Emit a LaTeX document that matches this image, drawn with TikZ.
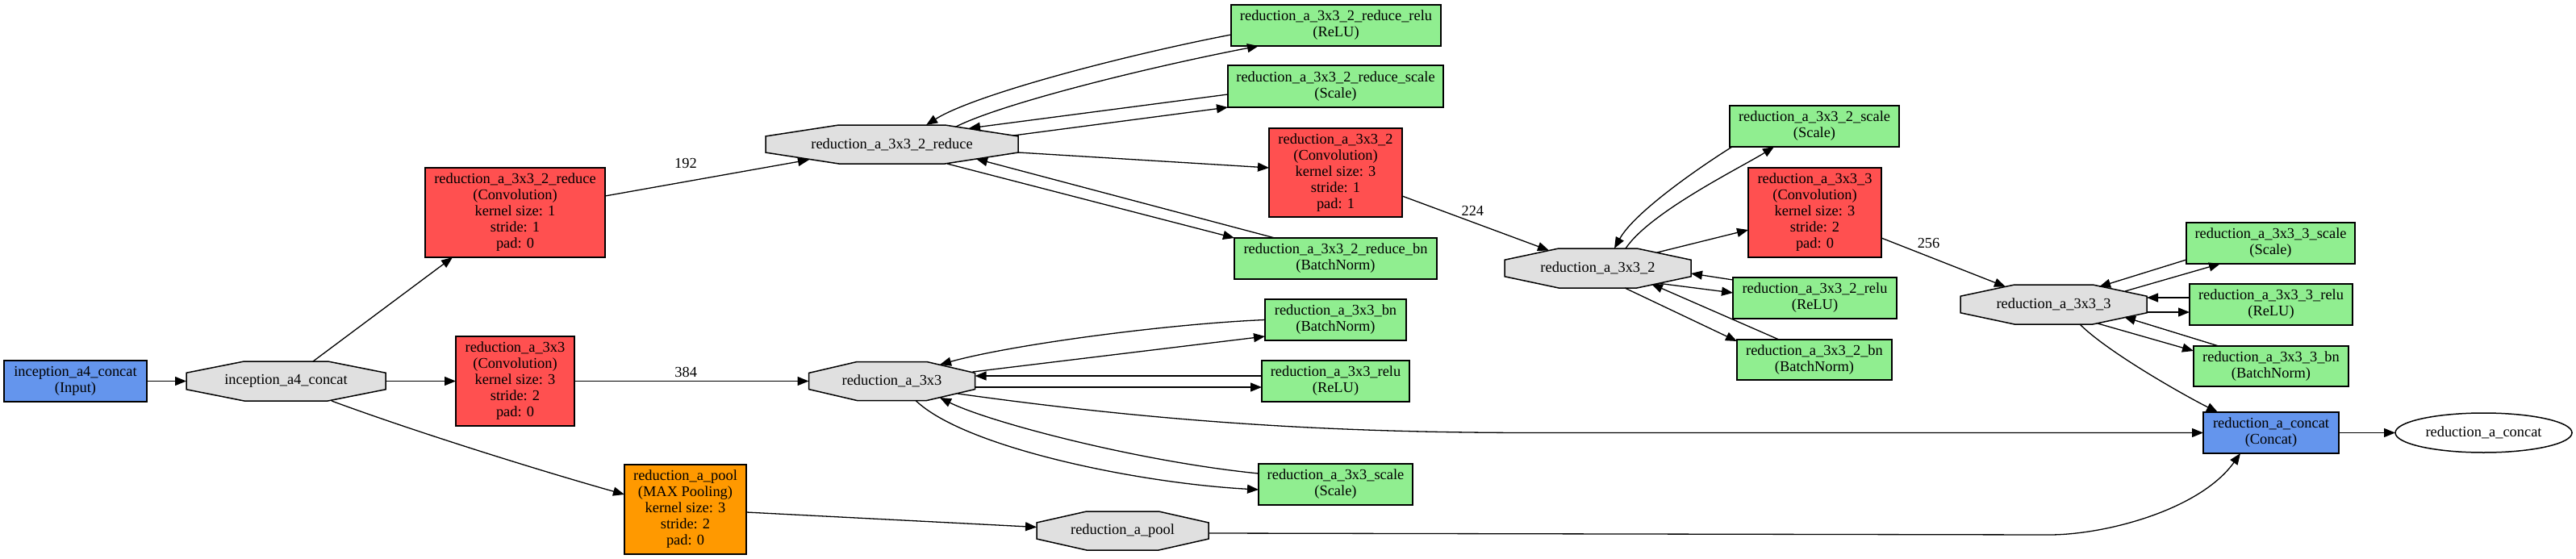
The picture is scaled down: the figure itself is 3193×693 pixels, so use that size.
\documentclass[tikz,border=0pt]{standalone}
\usepackage{fontspec}
\setmainfont{Liberation Serif}
\usetikzlibrary{arrows.meta,calc,backgrounds,shapes.geometric}
\definecolor{convred}{HTML}{FF5050}
\definecolor{neurgreen}{HTML}{90EE90}
\definecolor{layerblue}{HTML}{6495ED}
\definecolor{poolorange}{HTML}{FF9900}
\definecolor{blobgray}{HTML}{E0E0E0}
\newcommand\myoct[1]{%
  \filldraw[octstyle] ($(#1.north west)!0.29!(#1.south west)$) -- ($(#1.north west)!0.29!(#1.north east)$) -- ($(#1.north east)!0.29!(#1.north west)$) -- ($(#1.north east)!0.29!(#1.south east)$) -- ($(#1.south east)!0.29!(#1.north east)$) -- ($(#1.south east)!0.29!(#1.south west)$) -- ($(#1.south west)!0.29!(#1.south east)$) -- ($(#1.south west)!0.29!(#1.north west)$) -- cycle;}
\begin{document}
\begin{tikzpicture}[x=1pt,y=-1pt,
  every node/.style={font=\fontsize{18.4}{20}\selectfont, inner sep=0pt, outer sep=0pt},
  sz/.style 2 args={minimum width=#1pt, minimum height=#2pt},
  lbox/.style={draw=black, line width=1.5pt, rectangle, align=center},
  conv/.style={lbox, fill=convred},
  neur/.style={lbox, fill=neurgreen},
  inp/.style={lbox, fill=layerblue},
  poolbox/.style={lbox, fill=poolorange},
  blob/.style={rectangle, align=center},
  octstyle/.style={fill=blobgray, draw=black, line width=1.5pt},
  conn/.style={line width=1.3pt, -{Triangle[length=14pt,width=11pt]}},
  elab/.style={}
]
\useasboundingbox (0,0) rectangle (3193,693);

\node[inp, sz={177}{51}] (in) at (93.5,472.5) {inception\_a4\_concat\\(Input)};
\node[blob, sz={247}{49}] (b0) at (354.5,472.5) {inception\_a4\_concat};
\node[conv, sz={223}{111}] (c2r) at (638.5,263.5) {reduction\_a\_3x3\_2\_reduce\\(Convolution)\\kernel size: 1\\stride: 1\\pad: 0};
\node[conv, sz={147}{111}] (c3) at (638.5,472.5) {reduction\_a\_3x3\\(Convolution)\\kernel size: 3\\stride: 2\\pad: 0};
\node[poolbox, sz={151}{111}] (pl) at (849.5,631.5) {reduction\_a\_pool\\(MAX Pooling)\\kernel size: 3\\stride: 2\\pad: 0};
\node[blob, sz={313}{48}] (b2r) at (1105.5,179) {reduction\_a\_3x3\_2\_reduce};
\node[blob, sz={206}{48}] (b3) at (1105.5,472.5) {reduction\_a\_3x3};
\node[blob, sz={213}{48}] (bp) at (1391.5,658) {reduction\_a\_pool};
\node[neur, sz={260}{51}] (r2rr) at (1656,31.5) {reduction\_a\_3x3\_2\_reduce\_relu\\(ReLU)};
\node[neur, sz={267}{52}] (r2rs) at (1655.5,107) {reduction\_a\_3x3\_2\_reduce\_scale\\(Scale)};
\node[conv, sz={165}{110}] (c32) at (1655.5,214) {reduction\_a\_3x3\_2\\(Convolution)\\kernel size: 3\\stride: 1\\pad: 1};
\node[neur, sz={251}{51}] (r2rb) at (1655.5,320.5) {reduction\_a\_3x3\_2\_reduce\_bn\\(BatchNorm)};
\node[neur, sz={175}{51}] (r3b) at (1655.5,396.5) {reduction\_a\_3x3\_bn\\(BatchNorm)};
\node[neur, sz={183}{51}] (r3r) at (1655.5,472.5) {reduction\_a\_3x3\_relu\\(ReLU)};
\node[neur, sz={191}{51}] (r3s) at (1655.5,600.5) {reduction\_a\_3x3\_scale\\(Scale)};
\node[blob, sz={231}{49}] (b32) at (1980.5,332.5) {reduction\_a\_3x3\_2};
\node[neur, sz={210}{51}] (s32) at (2249,156.5) {reduction\_a\_3x3\_2\_scale\\(Scale)};
\node[conv, sz={165}{111}] (c33) at (2249.5,263.5) {reduction\_a\_3x3\_3\\(Convolution)\\kernel size: 3\\stride: 2\\pad: 0};
\node[neur, sz={203}{51}] (r32) at (2249.5,369.5) {reduction\_a\_3x3\_2\_relu\\(ReLU)};
\node[neur, sz={192}{50}] (n32) at (2249,446) {reduction\_a\_3x3\_2\_bn\\(BatchNorm)};
\node[blob, sz={231}{49}] (b33) at (2545.5,377.5) {reduction\_a\_3x3\_3};
\node[neur, sz={209}{51}] (s33) at (2814.5,301.5) {reduction\_a\_3x3\_3\_scale\\(Scale)};
\node[neur, sz={202}{51}] (r33) at (2815,377.5) {reduction\_a\_3x3\_3\_relu\\(ReLU)};
\node[neur, sz={192}{50}] (n33) at (2815,454) {reduction\_a\_3x3\_3\_bn\\(BatchNorm)};
\node[inp, sz={168}{51}] (cc) at (2815,536.5) {reduction\_a\_concat\\(Concat)};
\node[ellipse, draw=black, line width=1.5pt, fill=white, sz={219}{49}] (out) at (3078.5,536.5) {reduction\_a\_concat};

% edges
\draw[conn] (in) -- (b0);
\draw[conn] ($(b0.north)+(33.5,0)$) -- ($(c2r.south)+(-77.5,0)$);
\draw[conn] (b0) -- (c3);
\draw[conn] ($(b0.south)+(56.5,0)$) .. controls +(100,37) and +(-110,-31) .. ($(pl.west)+(0,-18.5)$);
\draw[conn] ($(c2r.east)+(0,-20.5)$) -- node[elab,pos=0.395,yshift=23pt]{192} ($(b2r)+(-102.5,19)$);
\draw[conn] (c3) -- node[elab,pos=0.476,yshift=11pt]{384} (b3);

\draw[conn] ($(r2rr.west)+(0,11.5)$) .. controls +(-130,25) and +(60,-38) .. ($(b2r.north)+(42.5,0)$);
\draw[conn] ($(b2r)+(79.5,-22)$) .. controls +(60,-30) and +(-130,25) .. ($(r2rr.south)+(-96,0)$);
\draw[conn] ($(r2rs.west)+(0,10)$) -- ($(b2r)+(95.5,-20)$);
\draw[conn] ($(b2r)+(150.5,-11)$) -- (r2rs.south west);
\draw[conn] ($(b2r.east)+(0,10)$) -- ($(c32.west)+(0,-6)$);
\draw[conn] ($(b2r.south)+(68.5,0)$) -- (r2rb.north west);
\draw[conn] ($(r2rb.north)+(-75.5,0)$) -- ($(b2r)+(104.5,18)$);

\draw[conn] (r3b.west) .. controls +(-120,5) and +(90,-25) .. ($(b3)+(59.5,-20.5)$);
\draw[conn] ($(b3)+(100,-11.5)$) -- ($(r3b.west)+(0,20.5)$);
\draw[conn] ($(r3r.west)+(0,-6.5)$) -- ($(b3.east)+(0,-6.5)$);
\draw[conn] ($(b3.east)+(0,7.5)$) -- ($(r3r.west)+(0,7.5)$);
\draw[conn] ($(b3.south)+(29.5,0)$) .. controls +(60,58) and +(-150,-8) .. ($(r3s.west)+(0,6.5)$);
\draw[conn] ($(r3s.west)+(0,-13.5)$) .. controls +(-150,-15) and +(60,30) .. ($(b3)+(59.5,20.5)$);
\draw[conn] ($(b3)+(81.5,15.5)$) .. controls +(250,35) and +(-250,0) .. ($(cc.west)+(-830,0)$) -- (cc.west);

\draw[conn] ($(pl.east)+(0,3.5)$) -- ($(bp.west)+(0,-4.5)$);
\draw[conn] ($(bp.east)+(0,3)$) -- ($(cc.south)+(-275,101)$) .. controls +(70,0) and +(-50,70) .. ($(cc.south)+(-38,0)$);

\draw[conn] ($(c32.east)+(0,29)$) -- node[elab,pos=0.48,yshift=14pt]{224} ($(b32)+(-60.5,-22)$);
\draw[conn] ($(s32.south west)+(3,0)$) .. controls +(-40,25) and +(25,-45) .. ($(b32.north)+(20.5,0)$);
\draw[conn] ($(b32.north)+(34.5,0)$) .. controls +(30,-45) and +(-40,25) .. ($(s32.south)+(-50,0)$);
\draw[conn] ($(b32)+(73.5,-19.5)$) -- ($(c33.west)+(0,21.5)$);
\draw[conn] ($(r32.west)+(0,-22.5)$) -- ($(b32.east)+(0,6.5)$);
\draw[conn] ($(b32)+(77.5,19)$) -- ($(r32.west)+(0,-6.5)$);
\draw[conn] ($(b32.south)+(33.5,0)$) -- ($(n32.north west)+(0,2)$);
\draw[conn] ($(n32.north)+(-44,0)$) -- ($(b32)+(66.5,19.5)$);

\draw[conn] ($(c33.east)+(0,31.5)$) -- node[elab,pos=0.38,yshift=16pt]{256} ($(b33)+(-59.5,-22)$);
\draw[conn] ($(s33.west)+(0,20.5)$) -- ($(b33)+(56.5,-22)$);
\draw[conn] ($(b33)+(88.5,-16.5)$) -- ($(s33.south)+(-62.5,0)$);
\draw[conn] ($(r33.west)+(0,-8.5)$) -- ($(b33.east)+(0,-8.5)$);
\draw[conn] ($(b33.east)+(0,9.5)$) -- ($(r33.west)+(0,9.5)$);
\draw[conn] ($(b33)+(54.5,23.5)$) -- ($(n33.west)+(0,-19)$);
\draw[conn] ($(n33.north)+(-65,0)$) -- ($(b33)+(87.5,15.5)$);
\draw[conn] ($(b33.south)+(32.5,0)$) .. controls +(35,35) and +(-40,-20) .. ($(cc.north)+(-66,0)$);

\draw[conn] (cc) -- (out);

\begin{scope}[on background layer]
  \fill[white] (0,0) rectangle (3193,693);
  \myoct{b0}\myoct{b2r}\myoct{b3}\myoct{bp}\myoct{b32}\myoct{b33}
\end{scope}
\end{tikzpicture}
\end{document}
